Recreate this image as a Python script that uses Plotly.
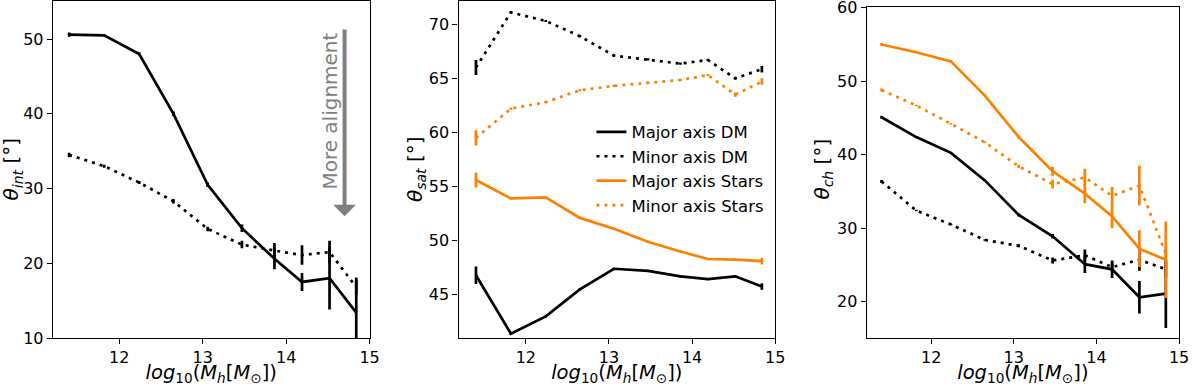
import plotly.graph_objects as go
from plotly.subplots import make_subplots

# halo mass bins, log10(Mh)
log_mh = [11.40, 11.82, 12.24, 12.65, 13.06, 13.47, 13.86, 14.19, 14.52, 14.84]

# panel 1: theta_int (DM only)
int_major_dm = [50.6, 50.5, 48.0, 40.0, 30.5, 24.7, 20.6, 17.5, 18.0, 13.4]
int_major_dm_err = [0.3, 0.2, 0.2, 0.3, 0.3, 0.5, 1.4, 1.2, 4.2, 4.7]
int_minor_dm = [34.5, 33.0, 30.8, 28.3, 24.6, 22.5, 21.7, 21.1, 21.5, 16.8]
int_minor_dm_err = [0.3, 0.2, 0.2, 0.3, 0.3, 0.5, 1.0, 1.3, 1.5, 1.0]

# panel 2: theta_sat
sat_major_dm = [46.8, 41.4, 43.0, 45.5, 47.4, 47.2, 46.7, 46.45, 46.7, 45.75]
sat_major_dm_err = [0.8, 0.1, 0.1, 0.1, 0.1, 0.1, 0.1, 0.1, 0.1, 0.3]
sat_minor_dm = [66.0, 71.1, 70.3, 68.9, 67.1, 66.75, 66.36, 66.7, 65.0, 65.85]
sat_minor_dm_err = [0.7, 0.1, 0.1, 0.1, 0.1, 0.1, 0.1, 0.1, 0.1, 0.3]
sat_major_st = [55.6, 53.9, 54.0, 52.1, 51.1, 49.9, 49.0, 48.3, 48.25, 48.1]
sat_major_st_err = [0.7, 0.1, 0.1, 0.1, 0.1, 0.1, 0.1, 0.1, 0.1, 0.3]
sat_minor_st = [59.5, 62.2, 62.8, 63.9, 64.3, 64.6, 64.85, 65.3, 63.5, 64.7]
sat_minor_st_err = [0.7, 0.1, 0.1, 0.1, 0.1, 0.1, 0.1, 0.1, 0.2, 0.3]

# panel 3: theta_ch
ch_major_dm = [45.1, 42.4, 40.25, 36.5, 31.8, 28.9, 25.1, 24.4, 20.6, 21.1]
ch_major_dm_err = [0.2, 0.1, 0.1, 0.1, 0.2, 0.3, 1.2, 1.2, 2.2, 4.7]
ch_minor_dm = [36.35, 32.4, 30.5, 28.4, 27.6, 25.6, 26.3, 24.7, 25.7, 24.4]
ch_minor_dm_err = [0.2, 0.1, 0.1, 0.1, 0.2, 0.4, 0.8, 0.6, 1.5, 1.0]
ch_major_st = [55.0, 53.95, 52.7, 48.05, 42.4, 37.75, 34.7, 31.6, 27.2, 25.7]
ch_major_st_err = [0.2, 0.1, 0.1, 0.1, 0.2, 0.6, 1.3, 1.6, 2.5, 5.2]
ch_minor_st = [48.8, 46.7, 44.2, 41.7, 38.4, 36.0, 36.9, 34.4, 35.8, 26.5]
ch_minor_st_err = [0.2, 0.1, 0.1, 0.1, 0.2, 0.6, 1.2, 1.2, 2.7, 1.0]

names = ["Major axis DM", "Minor axis DM", "Major axis Stars", "Minor axis Stars"]
colors = ["black", "black", "#ff8000", "#ff8000"]
dashes = ["solid", "3px,5px", "solid", "3px,5px"]
ytitles = ["<i>θ<sub>int</sub></i> [°]", "<i>θ<sub>sat</sub></i> [°]", "<i>θ<sub>ch</sub></i> [°]"]

panels = [
    [(int_major_dm, int_major_dm_err), (int_minor_dm, int_minor_dm_err)],
    [(sat_major_dm, sat_major_dm_err), (sat_minor_dm, sat_minor_dm_err),
     (sat_major_st, sat_major_st_err), (sat_minor_st, sat_minor_st_err)],
    [(ch_major_dm, ch_major_dm_err), (ch_minor_dm, ch_minor_dm_err),
     (ch_major_st, ch_major_st_err), (ch_minor_st, ch_minor_st_err)],
]

FONT = "DejaVu Sans"

fig = make_subplots(rows=1, cols=3)

for col, series in enumerate(panels, start=1):
    for i, (vals, errs) in enumerate(series):
        fig.add_trace(go.Scatter(
            x=log_mh, y=vals, mode="lines",
            line=dict(color=colors[i], width=2.7, dash=dashes[i]),
            error_y=dict(type="data", array=errs, visible=True,
                         color=colors[i], thickness=2.7, width=0),
            name=names[i], legendgroup=names[i],
            showlegend=(col == 2),
        ), row=1, col=col)

axis_common = dict(
    showline=True, mirror=True, linecolor="black", linewidth=1.3,
    ticks="outside", ticklen=5, tickwidth=1.3, tickcolor="black",
    showgrid=False, zeroline=False, ticklabeloverflow="allow",
    tickfont=dict(family=FONT, size=16, color="black"),
)
xtitle = "<i>log</i><sub>10</sub>(<i>M<sub>h</sub></i>[<i>M</i><sub>⊙</sub>])"
xt = dict(text=xtitle, standoff=3, font=dict(size=19.5))

fig.update_layout(
    xaxis=dict(domain=[0.0444, 0.3106], range=[11.205, 15], dtick=1, title=xt, **axis_common),
    xaxis2=dict(domain=[0.3853, 0.6514], range=[11.19, 15], dtick=1, title=xt, **axis_common),
    xaxis3=dict(domain=[0.7283, 0.9908], range=[11.22, 15], dtick=1, title=xt, **axis_common),
    yaxis=dict(domain=[0, 1], range=[10, 55.1], dtick=10, automargin=False, **axis_common),
    yaxis2=dict(domain=[0, 1], range=[41, 72.15], dtick=5, automargin=False, **axis_common),
    yaxis3=dict(domain=[0, 0.981], range=[15.05, 60.05], dtick=10, automargin=False, **axis_common),
    width=1200, height=386,
    margin=dict(l=0, r=0, t=1, b=48),
    plot_bgcolor="white", paper_bgcolor="white",
    font=dict(family=FONT, color="black", size=16),
    legend=dict(x=0.497, y=0.663, xanchor="left", yanchor="top",
                bgcolor="rgba(0,0,0,0)", font=dict(size=16.5),
                tracegroupgap=0),
)

# y-axis titles placed by hand (pixel centres 12, 419, 829)
for xpx, txt in zip([12, 419, 829], ytitles):
    fig.add_annotation(
        xref="paper", yref="paper", x=xpx / 1200, y=0.5,
        xanchor="center", yanchor="middle",
        text=txt, showarrow=False, textangle=-90,
        font=dict(family=FONT, size=20, color="black"),
    )

# "More alignment" arrow in the first panel
fig.add_annotation(
    xref="x", yref="y", axref="x", ayref="y",
    x=14.7, y=26.3, ax=14.7, ay=51.5,
    text="", showarrow=True, arrowhead=1, arrowsize=0.95,
    arrowwidth=4, arrowcolor="gray",
)
fig.add_annotation(
    xref="x", yref="y", x=14.53, y=40.35,
    text="More alignment", showarrow=False, textangle=-90,
    font=dict(family=FONT, size=20, color="gray"),
)

# drop the default page margin so the figure fills the window exactly
fig.write_html("out.html", config={"displayModeBar": False},
               post_script="document.body.style.margin='0px';")
